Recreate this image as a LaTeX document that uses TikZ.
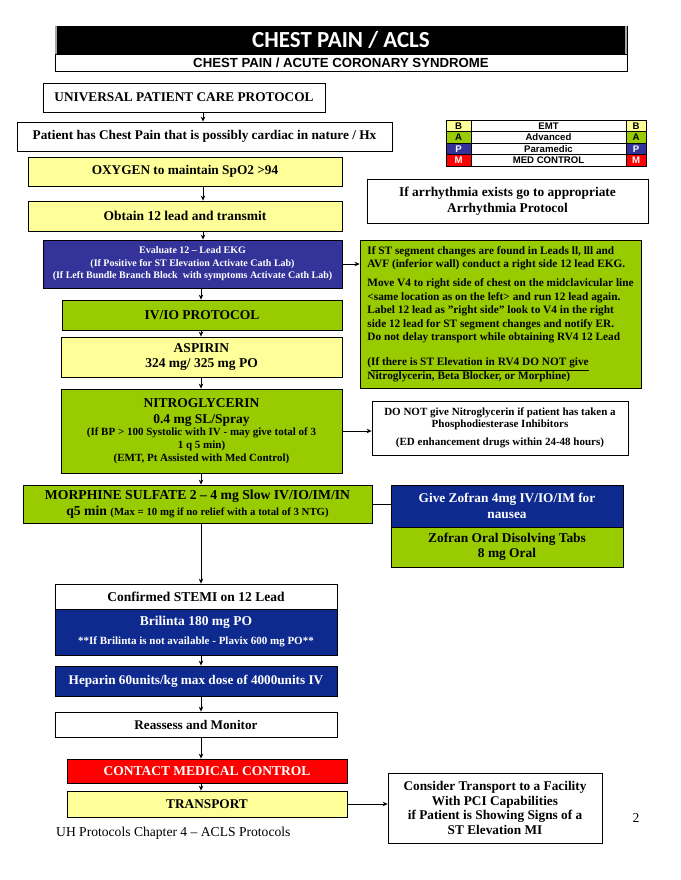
\documentclass[tikz,border=0pt]{standalone}
\usepackage{fontspec}
\setmainfont{Liberation Serif}
\newfontfamily\arialf{Liberation Sans}
\newfontfamily\calf{Carlito}
\usetikzlibrary{arrows.meta}
\definecolor{lyel}{HTML}{FFFF99}
\definecolor{lgrn}{HTML}{99CC00}
\definecolor{pblue}{HTML}{333399}
\definecolor{dblue}{HTML}{0F2A8F}
\definecolor{rred}{HTML}{FF0000}
\newcommand\fsz[2]{\fontsize{#1}{#2}\selectfont}
\tikzset{
  box/.style={draw=black, line width=0.8pt, inner sep=1pt, align=center},
  cell/.style={draw=black, line width=0.6pt, inner sep=0pt, minimum height=11.5pt, font=\arialf\bfseries\fsz{9.6}{11}},
  arr/.style={-{Stealth[length=5pt,width=4.5pt]}, line width=0.8pt},
  link/.style={line width=0.8pt}
}
\begin{document}
\begin{tikzpicture}[x=1pt,y=-1pt]
\useasboundingbox (0,0) rectangle (680,880);
% header
\node[fill=black, draw=black, line width=0.6pt, minimum width=572pt, minimum height=28pt, inner sep=0pt, text=white, font=\calf\bfseries\fsz{23}{26}] (ttl) at (341,40) {CHEST PAIN / ACLS};
\draw[gray!70, line width=2.5pt] ([xshift=1.5pt]ttl.north west) -- ([xshift=1.5pt]ttl.south west);
\draw[gray!70, line width=2.5pt] ([xshift=-1.5pt]ttl.north east) -- ([xshift=-1.5pt]ttl.south east);
\node[draw=black, line width=0.8pt, minimum width=572pt, minimum height=17pt, inner sep=0pt, font=\arialf\bfseries\fsz{13.2}{15}] (sub) at (341,62.5) {CHEST PAIN / ACUTE CORONARY SYNDROME};
% legend
\node[cell, fill=lyel, minimum width=25pt] (b1) at (458.5,126) {B};
\node[cell, minimum width=155pt] (b2) at (548.5,126) {EMT};
\node[cell, fill=lyel, minimum width=20pt] (b3) at (636,126) {B};
\node[cell, fill=lgrn, minimum width=25pt] (a1) at (458.5,137.5) {A};
\node[cell, minimum width=155pt] (a2) at (548.5,137.5) {Advanced};
\node[cell, fill=lgrn, minimum width=20pt] (a3) at (636,137.5) {A};
\node[cell, fill=pblue, text=white, minimum width=25pt] (p1) at (458.5,149) {P};
\node[cell, minimum width=155pt] (p2) at (548.5,149) {Paramedic};
\node[cell, fill=pblue, text=white, minimum width=20pt] (p3) at (636,149) {P};
\node[cell, fill=rred, text=white, minimum width=25pt] (m1) at (458.5,160.5) {M};
\node[cell, minimum width=155pt] (m2) at (548.5,160.5) {MED CONTROL};
\node[cell, fill=rred, text=white, minimum width=20pt] (m3) at (636,160.5) {M};
% left column
\node[box, minimum width=282pt, minimum height=29pt, font=\bfseries\fsz{13.3}{15}] (univ) at (184,97.5) {UNIVERSAL PATIENT CARE PROTOCOL};
\node[box, minimum width=375pt, minimum height=29pt, font=\bfseries\fsz{13.3}{15}] (pat) at (204.5,136.5) {Patient has Chest Pain that is possibly cardiac in nature / Hx};
\node[box, fill=lyel, minimum width=314pt, minimum height=29pt, font=\bfseries\fsz{13.3}{15}] (oxy) at (185,171.5) {OXYGEN to maintain SpO2 >94};
\node[box, fill=lyel, minimum width=314pt, minimum height=30pt, font=\bfseries\fsz{13.5}{15}] (obt) at (185,216) {Obtain 12 lead and transmit};
\node[box, fill=pblue, text=white, minimum width=299pt, minimum height=48pt, font=\bfseries\fsz{10}{12.5}] (eval) at (192.5,264) {Evaluate 12 – Lead EKG\\(If Positive for ST Elevation Activate Cath Lab)\\(If Left Bundle Branch Block\ \ with symptoms Activate Cath Lab)};
\node[box, fill=lgrn, minimum width=280pt, minimum height=30pt, font=\bfseries\fsz{13.5}{16}] (ivio) at (202,315) {IV/IO PROTOCOL};
\node[box, fill=lyel, minimum width=281pt, minimum height=40pt, font=\bfseries\fsz{13.5}{14.5}] (asp) at (201.5,357) {ASPIRIN\\324 mg/ 325 mg PO};
\node[box, fill=lgrn, minimum width=281pt, minimum height=84pt, font=\bfseries\fsz{11}{12.8}] (nitro) at (201.5,431) {\fsz{13.5}{16}NITROGLYCERIN\\[3pt]\fsz{13.5}{16}0.4 mg SL/Spray\\(If BP > 100 Systolic with IV - may give total of 3\\1 q 5 min)\\(EMT, Pt Assisted with Med Control)};
\node[box, fill=lgrn, minimum width=349pt, minimum height=38pt, font=\bfseries\fsz{13.7}{15.5}] (morph) at (197.5,504) {MORPHINE SULFATE 2 – 4 mg Slow IV/IO/IM/IN\\q5 min {\fsz{10.8}{12}(Max = 10 mg if no relief with a total of 3 NTG)}};
\node[box, fill=dblue, text=white, minimum width=232pt, minimum height=42pt, font=\bfseries\fsz{13.3}{16}] (zofb) at (507,506) {Give Zofran 4mg IV/IO/IM for\\nausea};
\node[box, fill=lgrn, minimum width=232pt, minimum height=40pt, font=\bfseries\fsz{13.4}{14.5}] (zofg) at (507,547) {Zofran Oral Disolving Tabs\\8 mg Oral};
\node[box, minimum width=282pt, minimum height=25pt, font=\bfseries\fsz{13.5}{15}] (conf) at (196,596.5) {Confirmed STEMI on 12 Lead};
\node[box, fill=dblue, text=white, minimum width=282pt, minimum height=46pt, font=\bfseries\fsz{11}{13}] (bril) at (196,632) {\fsz{13.5}{16}Brilinta 180 mg PO\\[6pt]**If Brilinta is not available - Plavix 600 mg PO**};
\node[box, fill=dblue, text=white, minimum width=282pt, minimum height=30pt, font=\bfseries\fsz{13.2}{15}] (hep) at (196,681) {Heparin 60units/kg max dose of 4000units IV};
\node[box, minimum width=282pt, minimum height=25pt, font=\bfseries\fsz{13.2}{15}] (reas) at (196,724.5) {Reassess and Monitor};
\node[box, fill=rred, text=white, minimum width=280pt, minimum height=24pt, font=\bfseries\fsz{13.5}{15}] (contact) at (207,771) {CONTACT MEDICAL CONTROL};
\node[box, fill=lyel, minimum width=280pt, minimum height=26pt, font=\bfseries\fsz{13.3}{15}] (trans) at (207,804) {TRANSPORT};
% right column
\node[box, minimum width=281pt, minimum height=44pt, font=\bfseries\fsz{13.4}{16.5}] (arrh) at (507.5,201) {If arrhythmia exists go to appropriate\\Arrhythmia Protocol};
\node[box, fill=lgrn, minimum width=281pt, minimum height=148pt, align=left, font=\bfseries\fsz{11.3}{13.4}] (stbox) at (500.5,314) {If ST segment changes are found in Leads ll, lll and\\AVF (inferior wall) conduct a right side 12 lead EKG.\\[6pt]Move V4 to right side of chest on the midclavicular line\\<same location as on the left> and run 12 lead again.\\Label 12 lead as "right side" look to V4 in the right\\side 12 lead for ST segment changes and notify ER.\\Do not delay transport while obtaining RV4 12 Lead\\[12pt](\underline{If there is ST Elevation in RV4 DO NOT give}\\Nitroglycerin, Beta Blocker, or Morphine)};
\node[box, minimum width=256pt, minimum height=54pt, font=\bfseries\fsz{11}{11.5}] (donot) at (500,428) {DO NOT give Nitroglycerin if patient has taken a\\Phosphodiesterase Inhibitors\\[7pt](ED enhancement drugs within 24-48 hours)};
\node[box, minimum width=214pt, minimum height=70pt, font=\bfseries\fsz{13.3}{14.7}] (consider) at (495,808) {Consider Transport to a Facility\\With PCI Capabilities\\if Patient is Showing Signs of a\\ST Elevation MI};
% footer
\node[anchor=west, inner sep=0pt, font=\fsz{13.6}{15}] (foot) at (56,833) {UH Protocols Chapter 4 – ACLS Protocols};
\node[inner sep=0pt, font=\fsz{13.6}{15}] (pg) at (636,818) {2};
% connectors
\coordinate (ax) at (203,0);
\coordinate (bx) at (201,0);
\draw[arr] (univ.south -| ax) -- (pat.north -| ax);
\draw[arr] (oxy.south -| ax) -- (obt.north -| ax);
\draw[arr] (obt.south -| ax) -- (eval.north -| ax);
\draw[arr] (eval.south -| bx) -- (ivio.north -| bx);
\draw[arr] (ivio.south -| bx) -- (asp.north -| bx);
\draw[arr] (asp.south -| bx) -- (nitro.north -| bx);
\draw[arr] (nitro.south -| bx) -- (morph.north -| bx);
\draw[arr] (morph.south -| bx) -- (conf.north -| bx);
\draw[arr] (bril.south -| bx) -- (hep.north -| bx);
\draw[arr] (hep.south -| bx) -- (reas.north -| bx);
\draw[arr] (reas.south -| bx) -- (contact.north -| bx);
\draw[arr] (contact.south -| bx) -- (trans.north -| bx);
\draw[arr] (eval.east) -- (eval.east -| stbox.west);
\draw[arr] (nitro.east) -- (nitro.east -| donot.west);
\draw[link] (morph.east) -- (morph.east -| zofb.west);
\draw[arr] (trans.east) -- (trans.east -| consider.west);
\end{tikzpicture}
\end{document}
